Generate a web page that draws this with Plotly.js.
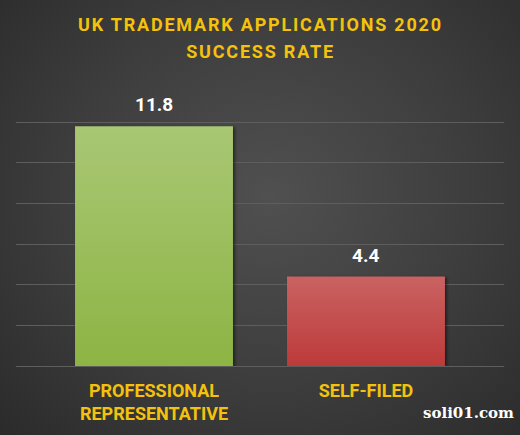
<!DOCTYPE html>
<html>
<head>
<meta charset="utf-8">
<script src="https://cdn.plot.ly/plotly-3.0.1.min.js"></script>
<style>
  html, body { margin: 0; padding: 0; }
  body { width: 520px; height: 435px; overflow: hidden;
         background: radial-gradient(ellipse 72% 78% at 52% 45%, #505050 0%, #3d3d3d 55%, #2b2b2b 100%); }
  #chart { width: 520px; height: 435px; }
  #chart .annotation.title-line text { letter-spacing: 1.8px; }
  #chart .bars .point path { filter: drop-shadow(2px 1px 1.5px rgba(0,0,0,0.45)); }
</style>
</head>
<body>
<div id="chart"></div>
<script>
// Share of UK trademark applications that succeeded in 2020, by filer type
const categories = ["PROFESSIONAL<br>REPRESENTATIVE", "SELF-FILED"];
const successRate = [11.8, 4.4];
const barColors = ["#9cbd58", "#c44a49"];
// top/bottom shades for the vertical bar gradients
const barGradients = [["#a9c774", "#8db444"], ["#ca6262", "#bd3a3a"]];
const titleLines = ["UK TRADEMARK APPLICATIONS 2020", "SUCCESS RATE"];

const font = "Roboto, sans-serif";
const yellow = "#f4c20d";

const trace = {
  type: "bar",
  x: categories,
  y: successRate,
  width: 0.745,
  marker: { color: barColors, line: { width: 0 } },
  hoverinfo: "skip"
};

const titleAnnotations = titleLines.map((line, i) => ({
  text: "<b>" + line + "</b>",
  xref: "paper", yref: "paper",
  x: 0.5, y: 1.197 - i * 0.092,
  xanchor: "center", yanchor: "middle",
  showarrow: false,
  font: { family: font, size: 18, color: yellow }
}));

// value labels sitting just above each bar
const valueAnnotations = categories.map((cat, i) => ({
  text: "<b>" + successRate[i].toFixed(1) + "</b>",
  x: cat, y: successRate[i],
  xref: "x", yref: "y",
  xanchor: "center", yanchor: "bottom",
  yshift: 8,
  showarrow: false,
  font: { family: font, size: 19, color: "#ffffff" }
}));

const layout = {
  width: 520,
  height: 435,
  margin: { l: 16, r: 16, t: 81, b: 69, pad: 0 },
  paper_bgcolor: "rgba(0,0,0,0)",
  plot_bgcolor: "rgba(0,0,0,0)",
  showlegend: false,
  xaxis: {
    range: [-0.651, 1.651],
    showgrid: false,
    zeroline: false,
    showline: false,
    ticks: "",
    ticklabelstandoff: 12,
    tickfont: { family: font, size: 18, color: yellow, weight: 700 },
    fixedrange: true
  },
  yaxis: {
    range: [0, 14.02],
    dtick: 2,
    tick0: 0,
    showticklabels: false,
    showgrid: true,
    gridcolor: "#5e5e5e",
    gridwidth: 1,
    zeroline: true,
    zerolinecolor: "#5e5e5e",
    zerolinewidth: 1,
    showline: false,
    fixedrange: true
  },
  annotations: titleAnnotations.concat(valueAnnotations, [{
    text: "<b>soli01.com</b>",
    xref: "paper", yref: "paper",
    x: 1.024, y: -0.165,
    xanchor: "right", yanchor: "middle",
    showarrow: false,
    font: { family: "DejaVu Serif", size: 15, color: "#ffffff" }
  }])
};

Plotly.newPlot("chart", [trace], layout, { displayModeBar: false, staticPlot: true }).then(gd => {
  // tag title annotations so the letter spacing style applies
  const annGroups = gd.querySelectorAll(".annotation");
  annGroups.forEach((g, i) => { if (i < titleLines.length) g.classList.add("title-line"); });

  // vertical gradient fills for the bars
  const svg = gd.querySelector(".main-svg");
  const ns = "http://www.w3.org/2000/svg";
  let defs = svg.querySelector("defs");
  if (!defs) { defs = document.createElementNS(ns, "defs"); svg.prepend(defs); }
  barGradients.forEach((stops, i) => {
    const grad = document.createElementNS(ns, "linearGradient");
    grad.setAttribute("id", "barGrad" + i);
    grad.setAttribute("x1", "0"); grad.setAttribute("y1", "0");
    grad.setAttribute("x2", "0"); grad.setAttribute("y2", "1");
    stops.forEach((c, j) => {
      const s = document.createElementNS(ns, "stop");
      s.setAttribute("offset", j === 0 ? "0" : "1");
      s.setAttribute("stop-color", c);
      grad.appendChild(s);
    });
    defs.appendChild(grad);
  });
  gd.querySelectorAll(".bars .point path").forEach((p, i) => {
    p.style.fill = "url(#barGrad" + i + ")";
  });
});
</script>
</body>
</html>
